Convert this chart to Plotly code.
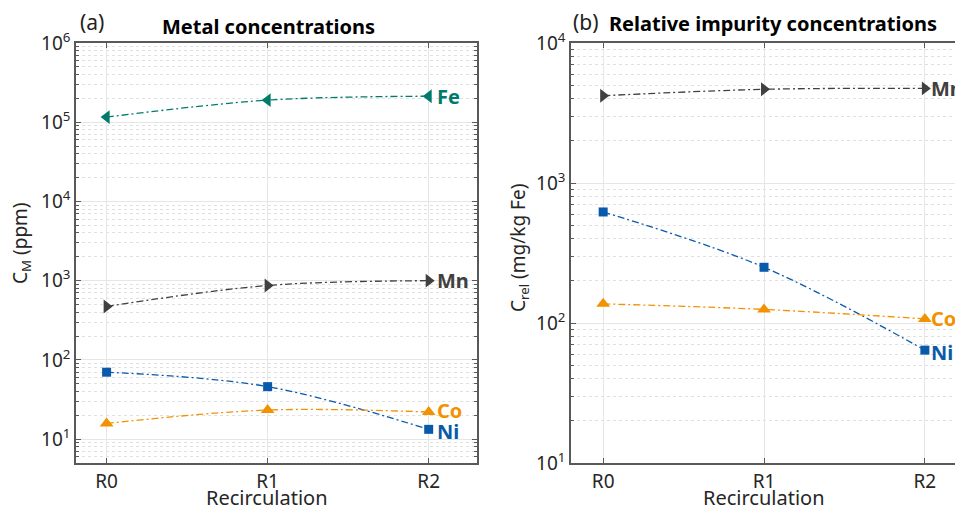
import math
import plotly.graph_objects as go

stages = ["R0", "R1", "R2"]
xpos = [0, 1, 2]

# Panel (a) metal concentrations (ppm)
fe_a = [116000, 190000, 213000]
mn_a = [473, 870, 1000]
ni_a = [70, 46, 13.3]
co_a = [15.8, 23.3, 22]

# Panel (b) relative impurity concentrations (mg/kg Fe)
mn_b = [4200, 4670, 4740]
ni_b = [621, 250, 64]
co_b = [137, 125, 107]

# Tick labels
ticks_a = [10, 100, 1000, 1e4, 1e5, 1e6]
ticks_b = [10, 100, 1000, 1e4]

FONT = "Noto Sans"
C_FE = "#007a6a"
C_MN = "#404040"
C_NI = "#0a5aab"
C_CO = "#f39200"
DASH = "7px,3px,2px,3px"
O = 8  # page body margin offset
W, H = 963 - O, 512 - O
T = 43 - O
B = H - (463 - O)

fig = go.Figure()

def add(x, y, color, symbol, xa, ya, size=11):
    fig.add_trace(go.Scatter(
        x=x, y=y, mode="lines+markers", xaxis=xa, yaxis=ya,
        line=dict(color=color, width=1.3, dash=DASH, shape="spline", smoothing=1),
        marker=dict(symbol=symbol, size=size, color=color),
        showlegend=False, cliponaxis=False))

add(xpos, fe_a, C_FE, "triangle-left", "x", "y", 12)
add(xpos, mn_a, C_MN, "triangle-right", "x", "y", 12)
add(xpos, ni_a, C_NI, "square", "x", "y", 9)
add(xpos, co_a, C_CO, "triangle-up", "x", "y", 12)

add(xpos, mn_b, C_MN, "triangle-right", "x2", "y2", 12)
add(xpos, ni_b, C_NI, "square", "x2", "y2", 9)
add(xpos, co_b, C_CO, "triangle-up", "x2", "y2", 12)

ann = []
def lab(text, y, color, xr, yr, dy=0, dx=6):
    ann.append(dict(x=2, y=math.log10(y), xref=xr, yref=yr, text="<b>%s</b>" % text,
                    showarrow=False, xanchor="left", xshift=dx, yshift=dy,
                    font=dict(family=FONT, size=20, color=color)))

lab("Fe", fe_a[2], C_FE, "x", "y")
lab("Mn", mn_a[2], C_MN, "x", "y")
lab("Co", co_a[2], C_CO, "x", "y", 2)
lab("Ni", ni_a[2], C_NI, "x", "y", -2)
lab("Mn", mn_b[2], C_MN, "x2", "y2", 0, 4)
lab("Co", co_b[2], C_CO, "x2", "y2", 0, 4)
lab("Ni", ni_b[2], C_NI, "x2", "y2", -2, 4)

def pix(text, x, y, size, color, xanchor="center", bold=False, angle=0):
    x -= O
    y -= O
    ann.append(dict(x=x / W, y=(H - y - B) / (H - T - B), xref="paper", yref="paper",
                    text=("<b>%s</b>" % text) if bold else text, showarrow=False,
                    xanchor=xanchor, yanchor="middle", textangle=angle,
                    font=dict(family=FONT, size=size, color=color)))

pix("(a)", 78, 22, 21, "#222", "left")
pix("Metal concentrations", 268, 27, 20, "#000", "center", True)
pix("(b)", 571, 22, 21, "#222", "left")
pix("Relative impurity concentrations", 607, 24, 20, "#000", "left", True)
pix("Recirculation", 267, 497, 20, "#262626")
pix("Recirculation", 764, 497, 20, "#262626")
pix("C<sub>M</sub> (ppm)", 21, 243, 19, "#262626", angle=-90)
pix("C<sub>rel</sub> (mg/kg Fe)", 519, 248, 19, "#262626", angle=-90)

axis_common = dict(
    showline=True, linecolor="#595959", linewidth=1.5,
    showgrid=True, gridcolor="#e6e6e6", gridwidth=1,
    ticks="inside", tickcolor="#595959", ticklen=5,
    tickfont=dict(family=FONT, size=19, color="#262626"),
    zeroline=False, automargin=False,
)

def pw(v):
    return "10<sup>%d</sup>" % round(math.log10(v))

def minor_vals(lo, hi):
    return [m * 10 ** e for e in range(lo, hi) for m in range(2, 10)]

xa = dict(axis_common, range=[-0.19, 2.3], tickvals=xpos, ticktext=stages, mirror="allticks",
          ticklabelstandoff=0)

def ya_minor(lo, hi):
    return dict(tickmode="array", tickvals=minor_vals(lo, hi), showgrid=True, griddash="dot",
                gridcolor="#e0e0e0", ticks="inside", ticklen=3, tickcolor="#595959")

L1, R1 = 76 - O, 477 - O
L2 = 571 - O

layout = dict(
    width=W, height=H,
    margin=dict(l=0, r=0, t=T, b=B),
    paper_bgcolor="white", plot_bgcolor="white",
    font=dict(family=FONT),
    xaxis=dict(xa, domain=[L1 / W, R1 / W], anchor="y"),
    yaxis=dict(axis_common, type="log", range=[0.699, 6], domain=[0, 1], anchor="x",
               tickvals=ticks_a, ticktext=[pw(v) for v in ticks_a], mirror="allticks",
               minor=ya_minor(0, 6)),
    xaxis2=dict(xa, domain=[L2 / W, 1.0], anchor="y2", range=[-0.2, 2.237]),
    yaxis2=dict(axis_common, type="log", range=[1, 4], domain=[0, 1], anchor="x2",
                tickvals=ticks_b, ticktext=[pw(v) for v in ticks_b], mirror=False,
                minor=ya_minor(1, 4)),
    annotations=ann,
)
fig.update_layout(**layout)
fig.write_html("out.html")
